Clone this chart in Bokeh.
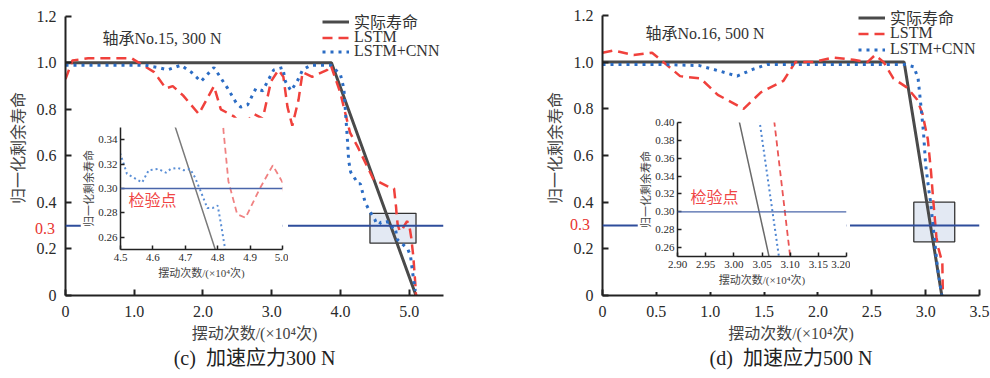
from bokeh.plotting import figure
from bokeh.models import Range1d, FixedTicker, Span, Label, Legend, LegendItem, Title, Div
from bokeh.layouts import row
from bokeh.embed import file_html
from bokeh.resources import INLINE

# ---------------- data: bearing No.15, 300 N ----------------
x_actual_15 = [0.0, 3.87, 5.10]
y_actual_15 = [1.0, 1.0, 0.0]
x_lstm_15 = [0.0, 0.10, 0.33, 0.96, 1.07, 1.29, 1.46, 1.56, 1.71, 1.94, 2.16, 2.26, 2.45, 2.58,
             2.74, 2.87, 2.99, 3.10, 3.17, 3.23, 3.30, 3.39, 3.45, 3.59, 3.81, 3.86, 4.00, 4.14,
             4.25, 4.48, 4.68, 4.78, 4.81, 4.818, 4.833, 4.86, 4.886, 4.93, 4.97, 5.00, 5.03,
             5.06, 5.09, 5.10]
y_lstm_15 = [0.93, 1.01, 1.02, 1.02, 1.00, 0.96, 0.89, 0.90, 0.86, 0.78, 0.90, 0.80, 0.77, 0.73,
             0.78, 0.76, 0.92, 0.97, 0.94, 0.81, 0.73, 0.84, 0.96, 0.94, 0.97, 0.99, 0.87, 0.70,
             0.64, 0.50, 0.47, 0.46, 0.38, 0.347, 0.306, 0.279, 0.276, 0.300, 0.319, 0.305, 0.25,
             0.17, 0.05, 0.0]
x_cnn_15 = [0.0, 1.15, 1.35, 1.49, 1.68, 1.83, 1.97, 2.16, 2.36, 2.48, 2.55, 2.65, 2.77, 2.87,
            2.94, 3.03, 3.16, 3.20, 3.28, 3.37, 3.45, 3.57, 3.86, 4.00, 4.05, 4.10, 4.12, 4.15,
            4.26, 4.29, 4.36, 4.43, 4.50, 4.52, 4.54, 4.567, 4.587, 4.617, 4.64, 4.655, 4.676,
            4.695, 4.715, 4.73, 4.747, 4.768, 4.784, 4.80, 4.81, 4.82, 4.83, 4.98, 5.02, 5.05, 5.09]
y_cnn_15 = [0.99, 0.99, 0.98, 0.97, 0.99, 0.96, 0.92, 0.98, 0.89, 0.83, 0.81, 0.82, 0.89, 0.88,
            0.92, 0.97, 0.98, 0.92, 0.88, 0.92, 0.97, 0.99, 0.99, 0.95, 0.89, 0.68, 0.58, 0.53,
            0.48, 0.48, 0.40, 0.36, 0.328, 0.312, 0.309, 0.305, 0.315, 0.316, 0.313, 0.316, 0.317,
            0.315, 0.316, 0.309, 0.298, 0.284, 0.284, 0.286, 0.271, 0.255, 0.24, 0.20, 0.17, 0.10, 0.02]
box_15 = dict(left=[4.43], right=[5.10], bottom=[0.225], top=[0.353])

# ---------------- data: bearing No.16, 500 N ----------------
x_actual_16 = [0.0, 2.80, 3.15]
y_actual_16 = [1.0, 1.0, 0.0]
x_lstm_16 = [0.0, 0.10, 0.29, 0.46, 0.54, 0.72, 0.91, 1.07, 1.31, 1.47, 1.68, 1.79, 1.96, 2.14,
             2.33, 2.46, 2.53, 2.61, 2.70, 2.83, 2.92, 2.97, 3.02, 3.05, 3.072, 3.10, 3.12, 3.155, 3.16]
y_lstm_16 = [1.04, 1.05, 1.03, 1.04, 1.01, 0.94, 0.93, 0.86, 0.80, 0.87, 0.92, 1.00, 1.00, 1.02,
             1.01, 1.00, 1.03, 1.00, 0.93, 0.89, 0.84, 0.78, 0.67, 0.53, 0.40, 0.25, 0.20, 0.14, 0.0]
x_cnn_16 = [0.0, 0.54, 0.90, 1.10, 1.25, 1.40, 1.53, 2.80, 2.89, 2.93, 2.95, 2.98, 3.00, 3.03,
            3.046, 3.08, 3.11, 3.15]
y_cnn_16 = [0.99, 0.99, 0.985, 0.96, 0.94, 0.97, 0.99, 0.99, 0.98, 0.93, 0.84, 0.70, 0.56, 0.45,
            0.40, 0.25, 0.12, 0.0]
box_16 = dict(left=[2.89], right=[3.27], bottom=[0.23], top=[0.40])

check_level = 0.3

# ticks / labels
y_ticks = [0, 0.2, 0.4, 0.6, 0.8, 1.0, 1.2]
y_tick_labels = ["0", "0.2", "0.4", "0.6", "0.8", "1.0", "1.2"]
x_ticks_15 = [0, 1, 2, 3, 4, 5]
x_tick_labels_15 = ["0", "1.0", "2.0", "3.0", "4.0", "5.0"]
x_ticks_16 = [0, 0.5, 1.0, 1.5, 2.0, 2.5, 3.0, 3.5]
x_tick_labels_16 = ["0", "0.5", "1.0", "1.5", "2.0", "2.5", "3.0", "3.5"]
ix_ticks_15 = [4.5, 4.6, 4.7, 4.8, 4.9, 5.0]
ix_tick_labels_15 = ["4.5", "4.6", "4.7", "4.8", "4.9", "5.0"]
iy_ticks_15 = [0.26, 0.28, 0.30, 0.32, 0.34]
iy_tick_labels_15 = ["0.26", "0.28", "0.30", "0.32", "0.34"]
ix_ticks_16 = [2.90, 2.95, 3.00, 3.05, 3.10, 3.15, 3.20]
ix_tick_labels_16 = ["2.90", "2.95", "3.00", "3.05", "3.10", "3.15", "3.20"]
iy_ticks_16 = [0.26, 0.28, 0.30, 0.32, 0.34, 0.36, 0.38, 0.40]
iy_tick_labels_16 = ["0.26", "0.28", "0.30", "0.32", "0.34", "0.36", "0.38", "0.40"]
legend_labels = ["实际寿命", "LSTM", "LSTM+CNN"]

FONT = "'Liberation Serif', 'Noto Sans CJK SC'"
RED = "#F0413C"
BLUE = "#2B6CC4"
GRAY = "#4A4A4A"
NAVY = "#2E4D9B"
TXT = "#2a2a2a"

XLABEL = "摆动次数/(×10⁴次)"
YLABEL = "归一化剩余寿命"
NB = "\u00a0\u00a0"


def style_axes(p, xt, xl, yt, yl, fs, tick_len, lw, lab_fs, xstand, ystand, xtstand, ytstand,
               ybounds=None):
    for ax, t, l, ts in ((p.xaxis[0], xt, xl, xtstand), (p.yaxis[0], yt, yl, ytstand)):
        ax.ticker = FixedTicker(ticks=t)
        ax.major_label_overrides = {float(a): b for a, b in zip(t, l)}
        ax.minor_tick_line_color = None
        ax.major_tick_in = tick_len
        ax.major_tick_out = 0
        ax.axis_line_width = lw
        ax.axis_line_color = "#222222"
        ax.major_tick_line_width = lw
        ax.major_tick_line_color = "#222222"
        ax.major_label_text_font = FONT
        ax.major_label_text_font_size = fs
        ax.major_label_text_color = TXT
        ax.axis_label_text_font = FONT
        ax.axis_label_text_font_size = lab_fs
        ax.axis_label_text_font_style = "normal"
        ax.axis_label_text_color = "#444444"
        ax.major_label_standoff = ts
    if ybounds is not None:
        p.yaxis[0].bounds = ybounds
    p.xaxis[0].axis_label = XLABEL
    p.yaxis[0].axis_label = YLABEL
    p.xaxis[0].axis_label_standoff = xstand
    p.yaxis[0].axis_label_standoff = ystand
    p.xgrid.visible = False
    p.ygrid.visible = False
    p.outline_line_color = None


def main_panel(width, xr, yr_end, borders, xt, xl, data, box, title, title_pos, legend_ys,
               legend_x, caption):
    p = figure(width=width, height=378, x_range=Range1d(0, xr), y_range=Range1d(0, yr_end),
               output_backend="svg", toolbar_location=None,
               min_border_left=borders[0], min_border_right=borders[1],
               min_border_top=borders[2], min_border_bottom=borders[3])
    style_axes(p, xt, xl, y_ticks, y_tick_labels, "16px", 6, 2, "16px", 5, 7, 10, 9,
               ybounds=(0, y_ticks[-1]))
    p.quad(left=box["left"], right=box["right"], bottom=box["bottom"], top=box["top"],
           fill_color="#DCE3F0", fill_alpha=0.8, line_color="#333333", line_width=1.3)
    (xa, ya, xs, ys, xc, yc) = data
    r_a = p.line(xa, ya, line_color=GRAY, line_width=3)
    r_l = p.line(xs, ys, line_color=RED, line_width=2.5, line_dash="10 6")
    r_c = p.line(xc, yc, line_color=BLUE, line_width=3, line_dash="3 5")
    p.add_layout(Span(location=check_level, dimension="width", line_color=NAVY, line_width=2))
    p.add_layout(Label(x=title_pos[0], y=title_pos[1], x_units="screen", y_units="screen",
                       text=title, text_baseline="middle", text_font=FONT,
                       text_font_size="16px", text_color="#333333"))
    p.add_layout(Title(text=caption, align="center", text_font=FONT, text_font_size="20px",
                       text_font_style="normal", text_color="#222222", standoff=0), "below")
    for lab, rend, ly in zip(legend_labels, (r_a, r_l, r_c), legend_ys):
        leg = Legend(items=[LegendItem(label=lab, renderers=[rend])],
                     location=(legend_x, ly), border_line_color=None, background_fill_alpha=0,
                     padding=0, margin=0, spacing=0, label_height=15, glyph_height=15,
                     glyph_width=27, label_standoff=5, label_text_font=FONT,
                     label_text_font_size="16px", label_text_color="#333333")
        p.add_layout(leg)
    return p


def inset_panel(left, top, width, height, borders, xr, yr, xt, xl, yt, yl, data, txt_pos, colors):
    p = figure(width=width, height=height, x_range=Range1d(*xr), y_range=Range1d(*yr),
               output_backend="svg", toolbar_location=None,
               min_border_left=borders[0], min_border_right=borders[1],
               min_border_top=borders[2], min_border_bottom=borders[3],
               background_fill_color="white", border_fill_color="white",
               styles={"position": "absolute", "left": f"{left}px", "top": f"{top}px", "z-index": "2"})
    style_axes(p, xt, xl, yt, yl, "11px", 4, 1.5, "11px", 3, 0, 4, 3)
    (xa, ya, xs, ys, xc, yc) = data
    p.line(xa, ya, line_color=colors[0], line_width=1.5)
    p.line(xs, ys, line_color=colors[1], line_width=1.8, line_dash="6 4")
    p.line(xc, yc, line_color=colors[2], line_width=2, line_dash="2 3")
    p.add_layout(Span(location=check_level, dimension="width", line_color="#4A66AA", line_width=1.3))
    p.add_layout(Label(x=txt_pos[0], y=txt_pos[1], text="检验点", text_baseline="middle",
                       text_font=FONT, text_font_size="16px", text_color="#F04545"))
    return p


def red_tick(left, top):
    return Div(text="0.3", width=24, height=20,
               styles={"position": "absolute", "left": f"{left}px", "top": f"{top}px",
                       "color": "#E8352F", "font-family": "'Liberation Serif', serif",
                       "font-size": "16px", "line-height": "20px", "z-index": "3",
                       "text-align": "right"})


data15 = (x_actual_15, y_actual_15, x_lstm_15, y_lstm_15, x_cnn_15, y_cnn_15)
data16 = (x_actual_16, y_actual_16, x_lstm_16, y_lstm_16, x_cnn_16, y_cnn_16)

left = main_panel(498, 5.5, 1.268, (65, 55, 0, 81), x_ticks_15, x_tick_labels_15, data15, box_15,
                  "轴承No.15, 300 N", (37, 257), (262, 249, 235), 257,
                  "(c)" + NB + "加速应力300 N")
right = main_panel(492, 3.5, 1.264, (104, 11, 0, 83), x_ticks_16, x_tick_labels_16, data16, box_16,
                   "轴承No.16, 500 N", (43, 262), (266, 253, 237), 256,
                   "(d)" + NB + "加速应力500 N")

inset15 = inset_panel(80, 117, 208, 171, (40, 6, 10, 39), (4.5, 5.0), (0.25, 0.35),
                      ix_ticks_15, ix_tick_labels_15, iy_ticks_15, iy_tick_labels_15, data15,
                      (4.525, 0.29), ("#7A7A7A", "#F08282", "#5B8FD6"))
inset16 = inset_panel(637, 112, 213, 180, (40, 4, 10, 36), (2.90, 3.20), (0.25, 0.40),
                      ix_ticks_16, ix_tick_labels_16, iy_ticks_16, iy_tick_labels_16, data16,
                      (2.923, 0.316), ("#6A6A6A", "#EA5555", "#4F86D2"))

tick15 = red_tick(26, 214)
tick16 = red_tick(561, 210)

layout = row(left, right)
open("out.html", "w").write(file_html([layout, inset15, inset16, tick15, tick16], INLINE))
